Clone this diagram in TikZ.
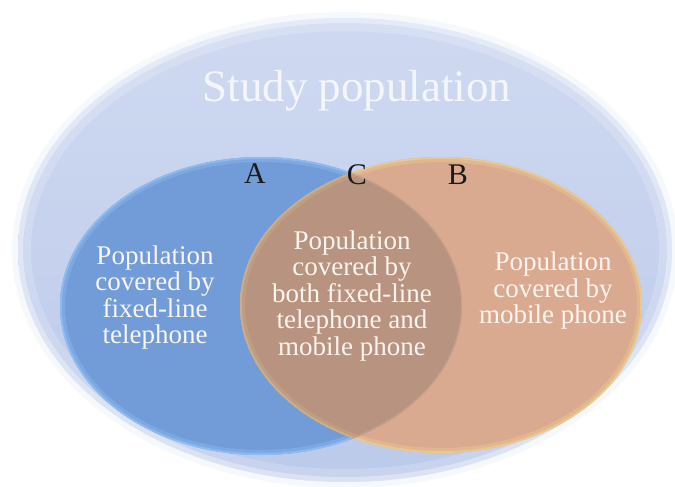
\documentclass[tikz,border=0pt]{standalone}
\usepackage{fontspec}
\setmainfont{Liberation Serif}
\definecolor{outertop}{HTML}{CFD9F1}
\definecolor{outerbot}{HTML}{BCCAEA}
\definecolor{outerrim}{HTML}{E8EEF9}
\definecolor{bluefill}{HTML}{719CD7}
\definecolor{bluerim}{HTML}{8FBDF3}
\definecolor{orangefill}{HTML}{DAAA90}
\definecolor{orangerim}{HTML}{EACB8E}
\definecolor{overlapfill}{HTML}{B8937F}
\definecolor{overlaprim}{HTML}{CDB088}
\definecolor{arcline}{HTML}{C6A692}
\definecolor{titlecol}{HTML}{F4F6FB}
\definecolor{bodycol}{HTML}{FBF5EF}
\definecolor{lettercol}{HTML}{1A1A1A}
\tikzset{
  bodytext/.style={text=bodycol, align=center, inner sep=0pt, font=\fontsize{27}{26.5}\selectfont},
  lettertext/.style={text=lettercol, inner sep=0pt, anchor=base, font=\fontsize{30}{32}\selectfont},
  titletext/.style={text=titlecol, inner sep=0pt, anchor=base, font=\fontsize{45}{50}\selectfont}
}
\begin{document}
\begin{tikzpicture}[x=1pt,y=-1pt]
\useasboundingbox (0,0) rectangle (675,487);
\fill[white] (0,0) rectangle (675,487);
% outer study population ellipse
\draw[outerrim, line width=6pt, opacity=0.35] (345,250) ellipse [x radius=330pt, y radius=235pt];
\shade[top color=outertop, bottom color=outerbot] (345,250) ellipse [x radius=327pt, y radius=232pt];
\begin{scope}
  \clip (345,250) ellipse [x radius=327pt, y radius=232pt];
  \draw[white, line width=26pt, opacity=0.18] (345,250) ellipse [x radius=327pt, y radius=232pt];
  \draw[white, line width=10pt, opacity=0.35] (345,250) ellipse [x radius=327pt, y radius=232pt];
\end{scope}
% fixed-line ellipse
\fill[bluefill] (261,306) ellipse [x radius=201pt, y radius=149pt];
\begin{scope}
  \clip (261,306) ellipse [x radius=201pt, y radius=149pt];
  \draw[bluerim, line width=10pt, opacity=0.4] (261,306) ellipse [x radius=201pt, y radius=149pt];
  \draw[bluerim, line width=3.5pt, opacity=0.9] (261,306) ellipse [x radius=201pt, y radius=149pt];
\end{scope}
% mobile ellipse
\fill[orangefill] (441,305) ellipse [x radius=201pt, y radius=148pt];
\begin{scope}
  \clip (441,305) ellipse [x radius=201pt, y radius=148pt];
  \draw[orangerim, line width=10pt, opacity=0.4] (441,305) ellipse [x radius=201pt, y radius=148pt];
  \draw[orangerim, line width=3.5pt, opacity=0.9] (441,305) ellipse [x radius=201pt, y radius=148pt];
\end{scope}
% overlap
\begin{scope}
  \clip (261,306) ellipse [x radius=201pt, y radius=149pt];
  \fill[overlapfill] (441,305) ellipse [x radius=201pt, y radius=148pt];
  \clip (441,305) ellipse [x radius=201pt, y radius=148pt];
  \draw[overlaprim, line width=10pt, opacity=0.35] (441,305) ellipse [x radius=201pt, y radius=148pt];
  \draw[overlaprim, line width=3.5pt, opacity=0.9] (441,305) ellipse [x radius=201pt, y radius=148pt];
  \draw[arcline, line width=2.4pt, opacity=0.7] (261,306) ellipse [x radius=201pt, y radius=149pt];
\end{scope}
% texts
\node[titletext] (title) at (357,102) {Study population};
\node[lettertext] (la) at (255,183) {A};
\node[lettertext] (lc) at (357,184) {C};
\node[lettertext] (lb) at (458,184) {B};
\node[bodytext] (fixed) at (155,297.5) {Population\\covered by\\fixed-line\\telephone};
\node[bodytext] (both) at (352,296) {Population\\covered by\\both fixed-line\\telephone and\\mobile phone};
\node[bodytext] (mobile) at (553,291) {Population\\covered by\\mobile phone};
\end{tikzpicture}
\end{document}
